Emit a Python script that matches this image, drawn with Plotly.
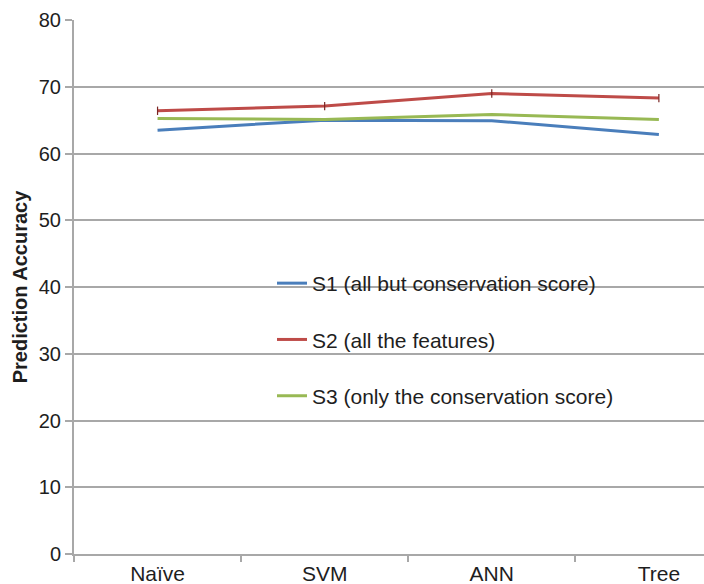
import plotly.graph_objects as go

categories = ["Naïve", "SVM", "ANN", "Tree"]
s1_values = [63.5, 65.0, 64.9, 62.85]
s2_values = [66.4, 67.1, 69.0, 68.3]
s3_values = [65.25, 65.1, 65.85, 65.1]
series_names = ["S1 (all but conservation score)", "S2 (all the features)",
                "S3 (only the conservation score)"]
y_ticks = [0, 10, 20, 30, 40, 50, 60, 70, 80]

FONT = "Liberation Sans, Arial, sans-serif"
GRID = "#a8a8a8"
TXT = "#1e1e1e"

fig = go.Figure()
fig.add_trace(go.Scatter(x=categories, y=s1_values, mode="lines", name=series_names[0],
                         legendgroup="a", line=dict(color="#4a7ebb", width=3)))
fig.add_trace(go.Scatter(x=categories, y=s2_values, mode="lines", name=series_names[1],
                         legendgroup="b", line=dict(color="#be4b48", width=3)))
fig.add_trace(go.Scatter(x=categories, y=s2_values, mode="markers", showlegend=False,
                         marker=dict(symbol="line-ns-open", size=6, color="#7a2624",
                                     line=dict(color="#7a2624", width=1.2))))
fig.add_trace(go.Scatter(x=categories, y=s3_values, mode="lines", name=series_names[2],
                         legendgroup="c", line=dict(color="#98b954", width=3)))

# white box behind legend, covering gridlines
fig.add_shape(type="rect", xref="paper", yref="paper",
              x0=(219 - 74) / 630, x1=(626 - 74) / 630,
              y0=(554 - 445) / 534, y1=(554 - 255) / 534,
              fillcolor="white", line=dict(width=0), layer="between")

fig.update_layout(
    width=704, height=584,
    margin=dict(l=74, r=0, t=20, b=30),
    paper_bgcolor="white", plot_bgcolor="white",
    font=dict(family=FONT, color=TXT, size=20),
    showlegend=True,
    legend=dict(x=(272 - 74) / 630, y=(554 - 263) / 534, xanchor="left", yanchor="top",
                bgcolor="rgba(0,0,0,0)", font=dict(size=21, family=FONT, color=TXT),
                tracegroupgap=26, itemwidth=30),
    xaxis=dict(type="category", range=[-0.5, 3.27], tickson="boundaries",
               ticks="outside", ticklen=6, tickcolor=GRID, tickwidth=2,
               showgrid=False, showline=True, linecolor=GRID, linewidth=2,
               tickfont=dict(size=21, family=FONT, color=TXT), zeroline=False),
    yaxis=dict(range=[0, 80], tickvals=y_ticks, ticks="outside", ticklen=7,
               tickcolor=GRID, tickwidth=2, showgrid=True, gridcolor=GRID, gridwidth=2,
               showline=True, linecolor=GRID, linewidth=2, zeroline=False,
               tickfont=dict(size=20, family=FONT, color=TXT),
               title=dict(text="<b>Prediction Accuracy</b>", standoff=6,
                          font=dict(size=20, family=FONT, color=TXT))),
)

fig.write_html("out.html")
